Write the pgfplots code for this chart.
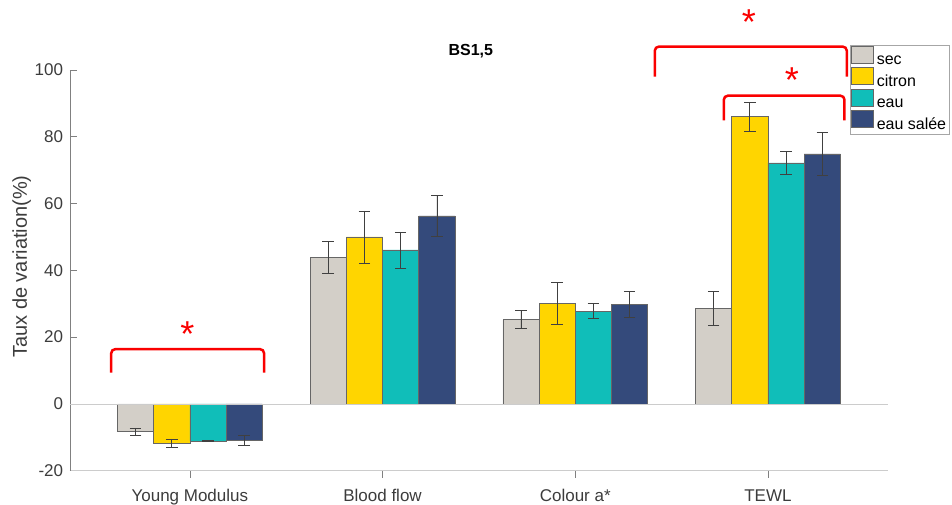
\documentclass[border=0pt]{standalone}
\usepackage{pgfplots}
\pgfplotsset{compat=1.18}
\usepackage{pgfplotstable}
\usepackage{fontspec}
\setmainfont{Liberation Sans}
\definecolor{csec}{RGB}{211,207,200}
\definecolor{ccit}{RGB}{255,213,0}
\definecolor{ceau}{RGB}{16,190,185}
\definecolor{csal}{RGB}{52,74,123}
\definecolor{tickgray}{RGB}{60,60,60}
\definecolor{sigred}{RGB}{250,0,0}

\pgfplotstableread{
x y e
1 -8.3 1.1
2 43.9 4.7
3 25.2 2.7
4 28.6 5.1
}\sec
\pgfplotstableread{
x y e
1 -11.8 1.3
2 50.0 7.8
3 30.1 6.3
4 86.0 4.3
}\citron
\pgfplotstableread{
x y e
1 -11.1 0.05
2 46.1 5.4
3 27.8 2.2
4 72.2 3.4
}\eau
\pgfplotstableread{
x y e
1 -10.9 1.4
2 56.3 6.2
3 29.7 3.9
4 74.9 6.5
}\sal

\begin{document}
\begin{tikzpicture}
\path (-70pt,-28.3pt) rectangle (882pt,470.7pt);
\begin{axis}[
  at={(0pt,0pt)}, anchor=south west,
  scale only axis, width=818pt, height=400.7pt,
  xmin=0.378, xmax=4.623, ymin=-20, ymax=100,
  clip=false,
  axis x line=bottom, axis y line=left,
  x axis line style={-, draw=gray!40, line width=0.8pt},
  y axis line style={-, draw=gray, line width=0.8pt},
  ytick={-20,0,20,40,60,80,100},
  xtick={1,2,3,4},
  xticklabels={Young Modulus, Blood flow, Colour a*, TEWL},
  /pgf/number format/assume math mode=true,
  tick align=inside, major tick length=7pt,
  tick style={draw=gray, line width=0.6pt},
  ticklabel style={font=\fontsize{17}{17}\selectfont, text=tickgray},
  yticklabel style={inner sep=0pt, xshift=-6.7pt},
  xticklabel style={anchor=base, inner sep=0pt, yshift=-23.6pt},
  ylabel={Taux de variation(\%)},
  ylabel style={font=\fontsize{20}{20}\selectfont, text=tickgray, at={(axis description cs:-0.059,0.5096)}, anchor=center},
  title={\textbf{BS1,5}},
  title style={font=\fontsize{16}{16}\selectfont, at={(axis description cs:0.490,1)}, anchor=center, yshift=13pt},
  legend style={at={(axis description cs:0.9535,1.0624)}, anchor=north west,
    draw=gray!70, fill=white, font=\fontsize{16}{16}\selectfont,
    inner xsep=1pt, inner ysep=1pt, row sep=0pt,
    nodes={inner xsep=2pt, inner ysep=1.55pt},
    /tikz/every odd column/.style={column sep=1pt}},
  legend cell align=left,
  ybar, bar width=0.188,
  legend image code/.code={\draw[#1] (0pt,-3pt) rectangle (22pt,14pt);},
  error bars/y dir=both, error bars/y explicit,
  error bars/error bar style={black!75, line width=0.7pt},
  error bars/error mark options={rotate=90, black!75, mark size=5.8pt, line width=0.7pt},
]
\addplot[fill=csec, draw=black!60, line width=0.6pt, bar shift=-0.282] table[x=x, y=y, y error=e] {\sec};
\addplot[fill=ccit, draw=black!60, line width=0.6pt, bar shift=-0.094] table[x=x, y=y, y error=e] {\citron};
\addplot[fill=ceau, draw=black!60, line width=0.6pt, bar shift=0.094] table[x=x, y=y, y error=e] {\eau};
\addplot[fill=csal, draw=black!60, line width=0.6pt, bar shift=0.282] table[x=x, y=y, y error=e] {\sal};
\legend{sec, citron, eau, eau salée}
\draw[gray!40, line width=0.8pt] (axis cs:0.378,0) -- (axis cs:4.623,0);
\draw[sigred, line width=2.5pt, rounded corners=4pt] (axis cs:0.592,9.4) -- (axis cs:0.592,16.4) -- (axis cs:1.385,16.4) -- (axis cs:1.385,9.4);
\draw[sigred, line width=2.5pt, rounded corners=4pt] (axis cs:3.413,98.0) -- (axis cs:3.413,107.0) -- (axis cs:4.409,107.0) -- (axis cs:4.409,98.0);
\draw[sigred, line width=2.5pt, rounded corners=4pt] (axis cs:3.771,84.9) -- (axis cs:3.771,92.3) -- (axis cs:4.397,92.3) -- (axis cs:4.397,84.9);
\node[text=sigred, font=\fontsize{36}{36}\selectfont, inner sep=0pt, yshift=-7.7pt] at (axis cs:0.987,23.3) {*};
\node[text=sigred, font=\fontsize{36}{36}\selectfont, inner sep=0pt, yshift=-7.7pt] at (axis cs:3.901,116.6) {*};
\node[text=sigred, font=\fontsize{36}{36}\selectfont, inner sep=0pt, yshift=-7.7pt] at (axis cs:4.124,99.3) {*};
\end{axis}
\end{tikzpicture}
\end{document}
